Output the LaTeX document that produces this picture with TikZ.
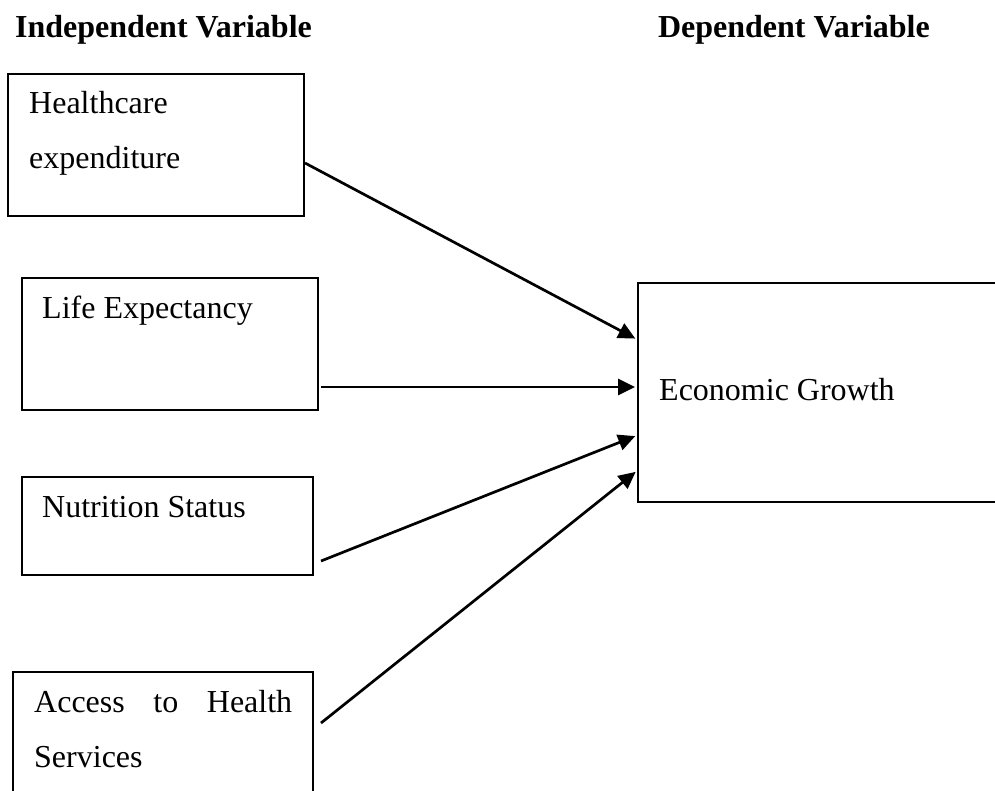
\documentclass[tikz,border=0pt]{standalone}
\usepackage{fontspec}
\setmainfont{Liberation Serif}
\usetikzlibrary{arrows.meta, positioning}

\begin{document}
\begin{tikzpicture}[x=1pt, y=-1pt,
    varbox/.style={draw, line width=2pt, rectangle, inner sep=0pt, outer sep=0pt, anchor=north west},
    boxtext/.style={anchor=base west, inner sep=0pt, font=\fontsize{32}{38}\selectfont},
    header/.style={anchor=base west, inner sep=0pt, font=\fontsize{32}{38}\selectfont\bfseries},
    link/.style={line width=2.7pt, -{Triangle[length=17pt, width=16pt]}, shorten >=3pt}]
    %\draw[step=50, gray!20, very thin] (0,0) grid (995,790);
    \path[use as bounding box] (0,0) rectangle (995,790);
    \clip (0,0) rectangle (995,790);

    \node[header] (indep) at (15,37) {Independent Variable};
    \node[header, anchor=base east] (dep) at (930,37) {Dependent Variable};

    \node[varbox, minimum width=296pt, minimum height=142pt] (health) at (8,74) {};
    \node[varbox, minimum width=296pt, minimum height=132pt] (life) at (22,278) {};
    \node[varbox, minimum width=291pt, minimum height=98pt] (nutri) at (22,477) {};
    \node[varbox, minimum width=300pt, minimum height=150pt] (access) at (13,672) {};
    \node[varbox, line width=2.3pt, minimum width=372pt, minimum height=219pt] (econ) at (638,283) {};

    \node[boxtext] (healthA) at (29,113) {Healthcare};
    \node[boxtext] (healthB) at (29,168) {expenditure};
    \node[boxtext] (lifeA) at (42,318) {Life Expectancy};
    \node[boxtext] (nutriA) at (42,517) {Nutrition Status};
    \node[boxtext] (accessA) at (34,712) {\makebox[258pt][s]{Access to Health}};
    \node[boxtext] (accessB) at (34,767) {Services};
    \node[boxtext] (econA) at (659,400) {Economic Growth};

    \draw[link] ([shift={(1pt,-18pt)}]health.east) -- ([yshift=52.5pt]econ.west);
    \draw[link] ([shift={(3pt,-43pt)}]life.east) -- ([yshift=5.5pt]econ.west);
    \draw[link] ([shift={(8pt,-35pt)}]nutri.east) -- ([yshift=-42.5pt]econ.west);
    \draw[link] ([shift={(8pt,-51pt)}]access.north east) -- ([yshift=-77.5pt]econ.west);

\end{tikzpicture}
\end{document}
